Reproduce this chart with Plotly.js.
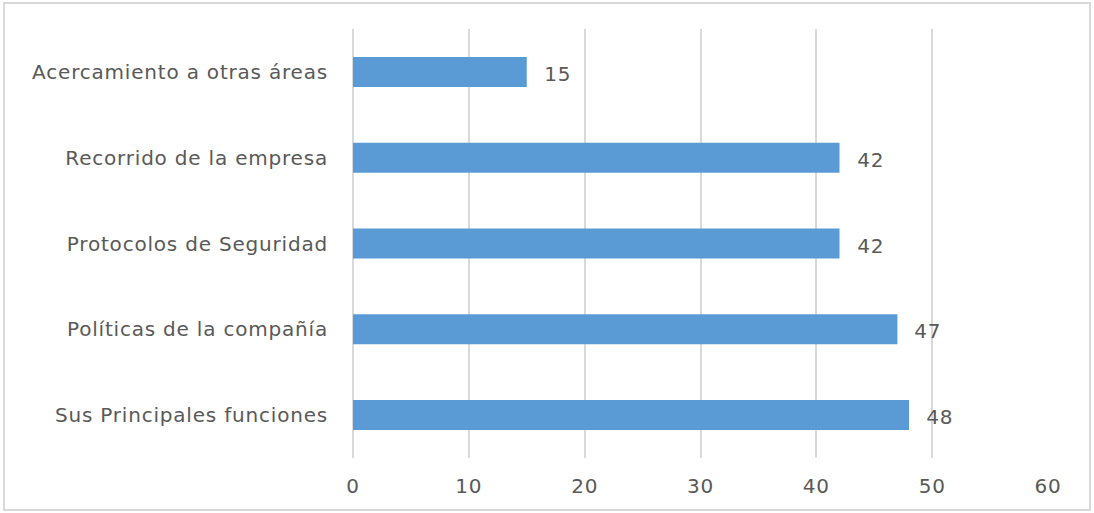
<!DOCTYPE html>
<html>
<head>
<meta charset="utf-8">
<script src="https://cdn.plot.ly/plotly-3.0.1.min.js"></script>
<style>
html,body{margin:0;padding:0;background:#fff;}
#chart{width:1094px;height:513px;}
#chart text{letter-spacing:0.8px;}
</style>
</head>
<body>
<div id="chart"></div>
<script>
const categories = ["Acercamiento a otras áreas", "Recorrido de la empresa", "Protocolos de Seguridad", "Políticas de la compañía", "Sus Principales funciones"];
const values = [15, 42, 42, 47, 48];
const xTicks = [0, 10, 20, 30, 40, 50, 60];

const font = {family: "DejaVu Sans, sans-serif", size: 20, color: "#595959"};

const trace = {
  type: "bar",
  orientation: "h",
  x: values,
  y: categories,
  marker: {color: "#5B9BD5"},
  hoverinfo: "x+y"
};

const annotations = values.map((v, i) => ({
  x: v, y: categories[i], xref: "x", yref: "y",
  text: String(v), showarrow: false, xanchor: "left", xshift: 16, yshift: -2,
  font: font
}));

const layout = {
  width: 1094, height: 513,
  margin: {l: 353, r: 46, t: 29, b: 55, pad: 0},
  paper_bgcolor: "#fff", plot_bgcolor: "#fff",
  bargap: 0.65,
  showlegend: false,
  font: font,
  xaxis: {
    range: [0, 60], tickvals: xTicks, ticktext: xTicks.map(String),
    showgrid: true, gridcolor: "#d9d9d9", gridwidth: 2,
    zeroline: true, zerolinecolor: "#d9d9d9", zerolinewidth: 2,
    showline: false, ticks: "", ticklabelstandoff: 14,
    tickfont: font, fixedrange: true
  },
  yaxis: {
    autorange: "reversed", type: "category",
    showgrid: false, zeroline: false, showline: false, ticks: "",
    ticklabelstandoff: 24, tickfont: font, fixedrange: true
  },
  annotations: annotations,
  shapes: [{
    type: "rect", xref: "paper", yref: "paper",
    x0: (4 - 353) / 695, x1: (1090 - 353) / 695,
    y0: (458 - 510) / 429, y1: (458 - 3) / 429,
    line: {color: "#d9d9d9", width: 2}, fillcolor: "rgba(0,0,0,0)", layer: "below"
  }]
};

Plotly.newPlot("chart", [trace], layout, {displayModeBar: false, staticPlot: true});
</script>
</body>
</html>
